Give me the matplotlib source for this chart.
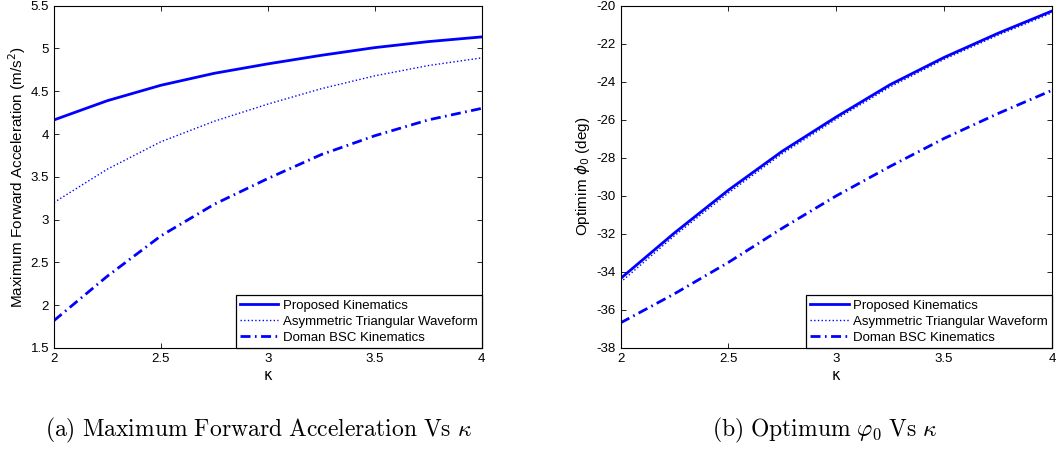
import numpy as np
import matplotlib
matplotlib.use("Agg")
import matplotlib.pyplot as plt
from matplotlib.ticker import FormatStrFormatter, MultipleLocator

plt.rcParams['font.family'] = ['Liberation Sans', 'DejaVu Sans']
plt.rcParams['axes.linewidth'] = 0.8

kappa = [2.0, 2.25, 2.5, 2.75, 3.0, 3.25, 3.5, 3.75, 4.0]

# maximum forward acceleration (m/s^2)
acc_proposed = [4.165, 4.39, 4.57, 4.71, 4.82, 4.92, 5.01, 5.08, 5.135]
acc_triangular = [3.20, 3.59, 3.91, 4.15, 4.35, 4.53, 4.68, 4.80, 4.89]
acc_doman = [1.82, 2.34, 2.81, 3.18, 3.48, 3.76, 3.98, 4.165, 4.30]

# optimum phi_0 (deg)
phi_proposed = [-34.35, -31.95, -29.70, -27.65, -25.85, -24.15, -22.72, -21.45, -20.28]
phi_triangular = [-34.55, -32.10, -29.85, -27.78, -25.97, -24.27, -22.82, -21.55, -20.38]
phi_doman = [-36.68, -35.15, -33.50, -31.70, -30.00, -28.45, -26.98, -25.67, -24.45]

labels = ['Proposed Kinematics', 'Asymmetric Triangular Waveform', 'Doman BSC Kinematics']
dashdot = (0, (3.6, 1.6, 0.6, 1.6))


def draw_panel(ax, y1, y2, y3):
    ax.plot(kappa, y1, color='blue', lw=2.0, label=labels[0])
    ax.plot(kappa, y2, color='blue', lw=1.0, ls=':', label=labels[1])
    ax.plot(kappa, y3, color='blue', lw=2.0, ls=dashdot, label=labels[2])
    ax.set_xlim(2, 4)
    ax.xaxis.set_major_locator(MultipleLocator(0.5))
    ax.xaxis.set_major_formatter(FormatStrFormatter('%g'))
    ax.tick_params(direction='in', top=True, right=True, length=3.5,
                   width=0.6, labelsize=9.5, pad=3.5)
    ax.set_xlabel('κ', fontsize=10.5, family='DejaVu Sans', labelpad=2)
    leg = ax.legend(loc='lower right', borderaxespad=0, fontsize=9.5,
                    fancybox=False, edgecolor='black', framealpha=1,
                    handlelength=2.9, handletextpad=0.35, labelspacing=0.3,
                    borderpad=0.3)
    leg.get_frame().set_linewidth(0.9)


fig = plt.figure(figsize=(10.56, 4.51), dpi=100)
ax_a = fig.add_axes([0.0511, 0.2284, 0.405, 0.759])
ax_b = fig.add_axes([0.5876, 0.2284, 0.4086, 0.759])

draw_panel(ax_a, acc_proposed, acc_triangular, acc_doman)
ax_a.set_ylim(1.5, 5.5)
ax_a.yaxis.set_major_locator(MultipleLocator(0.5))
ax_a.yaxis.set_major_formatter(FormatStrFormatter('%g'))
ax_a.set_ylabel('Maximum Forward Acceleration (m/s$^2$)', fontsize=11, labelpad=2)

draw_panel(ax_b, phi_proposed, phi_triangular, phi_doman)
ax_b.set_ylim(-38, -20)
ax_b.yaxis.set_major_locator(MultipleLocator(2))
ax_b.yaxis.set_major_formatter(FormatStrFormatter('%g'))
ax_b.set_ylabel(r'Optimim $\phi_0$ (deg)', fontsize=11, labelpad=3)

fig.text(0.245, 0.045, r'$\mathrm{(a)\ Maximum\ Forward\ Acceleration\ Vs}\ \kappa$',
         ha='center', va='center', fontsize=17, math_fontfamily='cm')
fig.text(0.781, 0.045, r'$\mathrm{(b)\ Optimum}\ \varphi_0\ \mathrm{Vs}\ \kappa$',
         ha='center', va='center', fontsize=17, math_fontfamily='cm')

fig.savefig('out.png', dpi=100)
